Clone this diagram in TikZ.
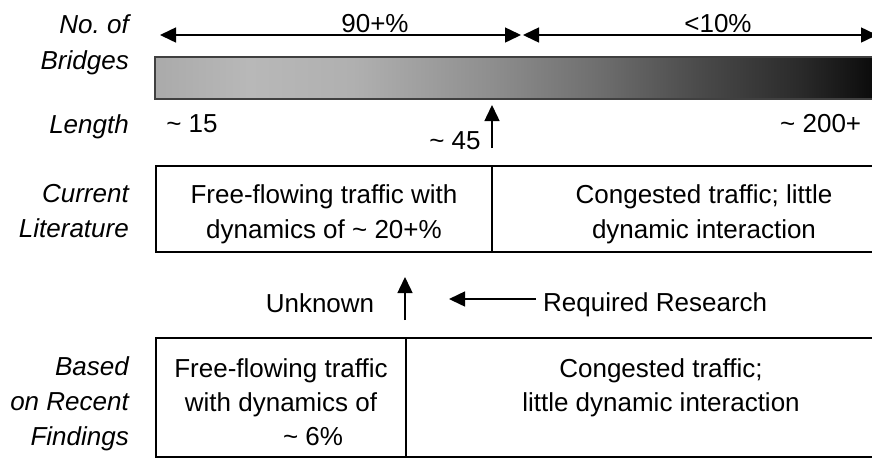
\documentclass[tikz,border=0pt]{standalone}
\usepackage{fontspec}
\setmainfont{Liberation Sans}
\usetikzlibrary{arrows.meta}
\definecolor{g0}{HTML}{AAAAAA}
\definecolor{g1}{HTML}{B8B8B8}
\definecolor{g2}{HTML}{B0B0B0}
\definecolor{g3}{HTML}{8E8E8E}
\definecolor{g4}{HTML}{6E6E6E}
\definecolor{g5}{HTML}{4A4A4A}
\definecolor{g6}{HTML}{2A2A2A}
\definecolor{g7}{HTML}{0C0C0C}
\definecolor{g8}{HTML}{000000}
\pgfdeclarehorizontalshading{bargrad}{100bp}{color(0bp)=(g0); color(25bp)=(g0); color(31.2bp)=(g1); color(38bp)=(g2); color(47.1bp)=(g3); color(54.2bp)=(g4); color(60.8bp)=(g5); color(67.4bp)=(g6); color(72.1bp)=(g7); color(75bp)=(g8); color(100bp)=(g8)}
\begin{document}
\begin{tikzpicture}[x=1pt,y=-1pt,
  txt/.style={font=\fontsize{26}{35}\selectfont, inner sep=0pt, anchor=base},
  lab/.style={font=\fontsize{26}{35}\selectfont\itshape, inner sep=0pt, anchor=base east},
  cell/.style={draw=black, line width=2pt},
  arr/.style={line width=1.5pt, -{Triangle[length=16pt,width=15pt]}},
  darr/.style={line width=1.5pt, {Triangle[length=16pt,width=15pt]}-{Triangle[length=16pt,width=15pt]}}]
\useasboundingbox (0,0) rectangle (872,459);
\clip (0,0) rectangle (872,459);

% left labels
\node[lab] (l1) at (129,33) {No.\ of};
\node[lab] (l2) at (129,69) {Bridges};
\node[lab] (l3) at (129,133) {Length};
\node[lab] (l4) at (129,202) {Current};
\node[lab] (l5) at (129,237) {Literature};
\node[lab] (l6) at (129,375) {Based};
\node[lab] (l7) at (129,410) {on Recent};
\node[lab] (l8) at (129,445) {Findings};

% top arrows
\coordinate (a1) at (160,35);
\coordinate (a2) at (521,35);
\coordinate (a3) at (523,35);
\coordinate (a4) at (877,35);
\draw[darr] (a1) -- (a2);
\draw[darr] (a3) -- (a4);
\node[txt] (p90) at (375,32) {90+\%};
\node[txt] (p10) at (718,32) {<10\%};

% gradient bar
\shade[shading=bargrad] (155,57) rectangle (916,99);
\draw[draw=black!75, line width=2pt] (155,57) rectangle (916,99);

% length labels
\node[txt] (n15) at (192,132) {\char"7E\ 15};
\node[txt] (n45) at (455,149) {\char"7E\ 45};
\node[txt, anchor=base west] (n200) at (780,132) {\char"7E\ 200+};
\coordinate (u1s) at (492,148);
\coordinate (u1e) at (492,105);
\draw[arr] (u1s) -- (u1e);

% current literature box
\draw[cell] (156,166) rectangle (916,252);
\draw[cell] (492,166) -- (492,252);
\node[txt] (c1a) at (324,203) {Free-flowing traffic with};
\node[txt] (c1b) at (324,238) {dynamics of \char"7E\ 20+\%};
\node[txt] (c2a) at (704,203) {Congested traffic; little};
\node[txt] (c2b) at (704,238) {dynamic interaction};

% middle row
\node[txt] (unk) at (320,312) {Unknown};
\coordinate (u2s) at (405,320);
\coordinate (u2e) at (405,277);
\draw[arr] (u2s) -- (u2e);
\node[txt, anchor=base west] (req) at (543,311) {Required Research};
\coordinate (r1) at (536,299);
\coordinate (r2) at (449,299);
\draw[arr] (r1) -- (r2);

% recent findings box
\draw[cell] (156,338) rectangle (916,457);
\draw[cell] (406,338) -- (406,457);
\node[txt] (f1a) at (281,377) {Free-flowing traffic};
\node[txt] (f1b) at (281,411) {with dynamics of};
\node[txt] (f1c) at (313,445) {\char"7E\ 6\%};
\node[txt] (f2a) at (661,377) {Congested traffic;};
\node[txt] (f2b) at (661,411) {little dynamic interaction};
\end{tikzpicture}
\end{document}
